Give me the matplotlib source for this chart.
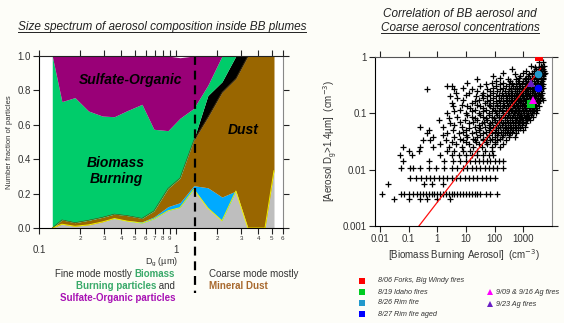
import numpy as np
import matplotlib.pyplot as plt
from matplotlib.ticker import FixedLocator, NullLocator

plt.rcParams['font.family'] = ['Liberation Sans', 'DejaVu Sans']

# ---------------- left panel: size-resolved composition ----------------
diam = [0.125, 0.147, 0.183, 0.23, 0.29, 0.355, 0.44, 0.565, 0.69, 0.875,
        1.07, 1.35, 1.71, 2.17, 2.74, 3.35, 4.47, 5.2]
# cumulative upper edge of each layer (number fraction)
top_other = [0, 0.022, 0.010, 0.018, 0.035, 0.055, 0.040, 0.028, 0.052, 0.100,
             0.118, 0.225, 0.116, 0.042, 0.215, 0, 0, 0.333]
top_salt = [0, 0.022, 0.010, 0.018, 0.035, 0.057, 0.042, 0.036, 0.064, 0.124,
            0.147, 0.246, 0.234, 0.180, 0.215, 0, 0, 0.333]
top_dust = [0, 0.047, 0.031, 0.045, 0.062, 0.081, 0.072, 0.056, 0.099, 0.230,
            0.290, 0.510, 0.645, 0.790, 0.870, 1.0, 1.0, 1.0]
top_soot = [0, 0.047, 0.031, 0.045, 0.062, 0.081, 0.072, 0.056, 0.099, 0.230,
            0.290, 0.515, 0.770, 0.850, 1.0, 1.0, 1.0, 1.0]
top_bb = [1.0, 0.735, 0.758, 0.680, 0.651, 0.647, 0.682, 0.719, 0.574, 0.566,
          0.638, 0.696, 0.830, 1.0, 1.0, 1.0, 1.0, 1.0]
top_so = [1.0, 1.0, 1.0, 1.0, 1.0, 1.0, 1.0, 1.0, 1.0, 1.0,
          0.99, 1.0, 1.0, 1.0, 1.0, 1.0, 1.0, 1.0]
cut_size = 1.38

# ---------------- right panel: scatter (log10 values, read by rows) ----------------
row_log_coarse = [-0.10, -0.16, -0.22, -0.28, -0.34, -0.40, -0.46, -0.52, -0.58,
                  -0.64, -0.70, -0.76, -0.82, -0.88, -0.94, -1.00, -1.06, -1.12,
                  -1.18, -1.24, -1.30, -1.36, -1.42, -1.48, -1.54, -1.60, -1.67,
                  -1.74, -1.84, -1.97, -2.15, -2.26, -2.44, -2.52]
row_log_bb = [
    [3.55, 3.68],
    [3.28, 3.62, 3.72],
    [2.6, 3.45, 3.58, 3.70],
    [2.3, 3.0, 3.3, 3.5, 3.65, 3.75],
    [1.95, 2.9, 3.15, 3.4, 3.55, 3.68],
    [1.4, 2.45, 2.75, 3.05, 3.25, 3.45, 3.6, 3.7],
    [1.02, 1.9, 2.3, 2.6, 2.85, 3.1, 3.3, 3.48, 3.62],
    [0.33, 0.5, 1.5, 2.05, 2.4, 2.65, 2.9, 3.05, 3.2, 3.35, 3.5, 3.65],
    [-0.37, 0.6, 1.2, 1.75, 2.2, 2.5, 2.7, 2.85, 3.0, 3.12, 3.25, 3.38, 3.5, 3.62],
    [0.67, 1.1, 1.6, 1.95, 2.25, 2.45, 2.62, 2.78, 2.92, 3.05, 3.18, 3.3, 3.42, 3.55, 3.66],
    [0.45, 1.35, 1.75, 2.05, 2.3, 2.5, 2.68, 2.82, 2.95, 3.08, 3.2, 3.32, 3.45, 3.58],
    [0.9, 1.45, 1.85, 2.15, 2.38, 2.56, 2.72, 2.86, 2.98, 3.1, 3.22, 3.34, 3.46, 3.58, 3.68],
    [0.5, 1.2, 1.65, 1.95, 2.2, 2.42, 2.6, 2.75, 2.88, 3.0, 3.12, 3.24, 3.36, 3.5],
    [0.55, 1.05, 1.5, 1.85, 2.1, 2.3, 2.48, 2.64, 2.78, 2.9, 3.02, 3.14, 3.26, 3.4, 3.55],
    [0.8, 1.3, 1.7, 2.0, 2.25, 2.45, 2.6, 2.74, 2.86, 2.98, 3.1, 3.22, 3.34, 3.46],
    [0.35, 1.0, 1.45, 1.8, 2.05, 2.3, 2.5, 2.66, 2.8, 2.92, 3.04, 3.16, 3.3, 3.45],
    [0.7, 1.2, 1.6, 1.9, 2.15, 2.36, 2.55, 2.7, 2.84, 2.96, 3.08, 3.2, 3.35],
    [0.05, 0.95, 1.4, 1.75, 2.0, 2.22, 2.42, 2.6, 2.75, 2.88, 3.0, 3.12, 3.25],
    [0.45, 1.1, 1.55, 1.85, 2.1, 2.3, 2.48, 2.65, 2.8, 2.95, 3.1],
    [-0.6, 0.2, 0.85, 1.3, 1.65, 1.95, 2.2, 2.4, 2.58, 2.75, 2.9, 3.05],
    [-0.3, 0.55, 1.0, 1.45, 1.8, 2.05, 2.28, 2.48, 2.65, 2.82, 2.98],
    [-0.37, 0.35, 0.75, 1.2, 1.6, 1.9, 2.12, 2.35, 2.55, 2.75],
    [-0.15, 0.6, 1.05, 1.4, 1.72, 2.0, 2.25, 2.5, 2.7],
    [-0.49, -0.26, 0.3, 0.9, 1.3, 1.6, 1.85, 2.1, 2.4],
    [0.1, 0.65, 1.1, 1.45, 1.75, 2.0, 2.3],
    [-1.2, -0.6, -0.14, 0.4, 0.85, 1.25, 1.55, 1.9, 2.2],
    [-1.0, -0.65, 0.33, 0.6, 0.9, 1.15, 1.4, 1.65, 1.9],
    [-1.3, -0.87, 0.1, 0.5, 0.75, 1.0, 1.2, 1.4, 1.6, 1.8, 1.95],
    [-1.2, -0.3, 0.25, 0.55, 0.8, 1.0, 1.15, 1.3, 1.45, 1.6, 1.72, 1.85, 2.0, 2.15, 2.3],
    [-1.25, -0.95, -0.85, -0.6, -0.3, -0.05, 0.25, 0.5, 0.7, 0.9, 1.05, 1.2, 1.35,
     1.5, 1.65, 1.8, 1.95, 2.1, 2.3],
    [-0.95, -0.75, -0.55, -0.4, -0.25, -0.1, 0.05, 0.2, 0.35, 0.5, 0.65, 0.8, 0.95,
     1.1, 1.25, 1.4, 1.55, 1.7, 1.85, 2.0],
    [-1.7, -0.45, -0.2, 0.2],
    [-1.94, -1.25, -1.15, -1.0, -0.85, -0.7, -0.6, -0.5, -0.4, -0.3, -0.2, -0.1, 0.0,
     0.1, 0.2, 0.3, 0.4, 0.5, 0.6, 0.7, 0.8, 0.9, 1.0, 1.1, 1.2, 1.3, 1.4, 1.5, 1.7,
     1.85, 2.07],
    [-1.5, -1.0, -0.6, -0.35, 0.0, 0.45],
]
# extra in-between rows for the dense core of the cloud
core_log_coarse = [-0.19, -0.25, -0.31, -0.37, -0.43, -0.49, -0.55, -0.61, -0.67,
                   -0.73, -0.79, -0.85, -0.91, -0.97, -1.03, -1.09, -1.15, -1.21,
                   -1.27, -1.33, -1.39, -1.45, -1.51]
core_log_bb = [
    [3.4, 3.55, 3.66],
    [3.1, 3.38, 3.52, 3.62, 3.72],
    [2.7, 3.2, 3.38, 3.52, 3.63, 3.72],
    [2.2, 2.85, 3.1, 3.3, 3.48, 3.6, 3.7],
    [2.05, 2.55, 2.8, 3.0, 3.18, 3.36, 3.52, 3.66],
    [1.7, 2.2, 2.5, 2.75, 2.96, 3.12, 3.27, 3.42, 3.57, 3.7],
    [0.9, 1.95, 2.3, 2.58, 2.78, 2.94, 3.06, 3.18, 3.3, 3.44, 3.56, 3.68],
    [1.4, 1.85, 2.1, 2.36, 2.56, 2.72, 2.86, 2.98, 3.1, 3.22, 3.34, 3.46, 3.6],
    [1.0, 1.55, 1.85, 2.15, 2.38, 2.56, 2.74, 2.88, 3.0, 3.12, 3.25, 3.38, 3.5, 3.62],
    [0.7, 1.6, 1.95, 2.22, 2.44, 2.62, 2.78, 2.9, 3.02, 3.14, 3.27, 3.4, 3.52, 3.64],
    [1.3, 1.75, 2.05, 2.3, 2.5, 2.66, 2.8, 2.92, 3.05, 3.17, 3.29, 3.41, 3.54],
    [0.85, 1.4, 1.8, 2.08, 2.32, 2.52, 2.68, 2.82, 2.94, 3.06, 3.18, 3.3, 3.44],
    [1.15, 1.6, 1.95, 2.18, 2.38, 2.55, 2.7, 2.83, 2.95, 3.07, 3.19, 3.31, 3.45],
    [0.6, 1.2, 1.6, 1.92, 2.16, 2.38, 2.56, 2.72, 2.86, 2.98, 3.1, 3.22, 3.36],
    [1.05, 1.5, 1.8, 2.1, 2.3, 2.48, 2.64, 2.78, 2.9, 3.02, 3.14, 3.28],
    [0.4, 1.3, 1.7, 1.98, 2.22, 2.44, 2.62, 2.78, 2.92, 3.05, 3.18],
    [0.8, 1.25, 1.62, 1.92, 2.16, 2.36, 2.54, 2.7, 2.85, 3.0],
    [0.6, 1.45, 1.8, 2.04, 2.26, 2.46, 2.64, 2.8, 2.95],
    [1.1, 1.5, 1.85, 2.12, 2.35, 2.55, 2.72, 2.88],
    [0.9, 1.35, 1.7, 2.0, 2.22, 2.44, 2.62],
    [0.2, 1.0, 1.5, 1.82, 2.08, 2.3, 2.5],
    [0.8, 1.25, 1.6, 1.9, 2.18],
    [0.5, 1.0, 1.35, 1.7, 2.0],
]
fit_bb = [0.23, 4000]
fit_coarse = [0.001, 0.62]

fire_names = ['8/06 Forks, Big Windy fires', '8/19 Idaho fires', '8/26 Rim fire',
              '8/27 Rim fire aged', '9/09 & 9/16 Ag fires', '9/23 Ag fires']
fire_bb = [3500, 1800, 3300, 3350, 2100, 1850]
fire_coarse = [0.98, 0.145, 0.50, 0.28, 0.17, 0.34]
fire_err = [700, 400, 600, 600, 400, 350]
fire_colors = ['#ff0000', '#00cc22', '#2299cc', '#0000ff', '#ff00ff', '#6a1fc4']
fire_markers = ['s', 's', 'o', 'o', '^', '^']
legend_markers = ['s', 's', 's', 's', '^', '^']

# ---------------------------------------------------------------------
W, H = 564, 323
fig = plt.figure(figsize=(W / 100, H / 100), dpi=100, facecolor='#fdfdf8')


def fx(px):
    return px / W


def fy(py):
    return 1 - py / H


# ----- left axes
ax = fig.add_axes([fx(39), fy(228), fx(283) - fx(39), fy(56) - fy(228)])
ax.set_facecolor('white')
ax.fill_between(diam, 0, top_other, color='#bebebe', lw=0)
ax.fill_between(diam, top_other, top_salt, color='#00aaff', lw=0)
ax.fill_between(diam, top_salt, top_dust, color='#996600', lw=0)
ax.fill_between(diam, top_dust, top_soot, color='black', lw=0)
ax.fill_between(diam, top_soot, top_bb, color='#00cc6a', lw=0)
ax.fill_between(diam, top_bb, top_so, color='#990077', lw=0)
ax.plot(diam, top_other, color='#f2f200', lw=0.7)
ax.plot(diam, top_dust, color='#5a3a00', lw=0.4)
ax.plot([cut_size, cut_size], [1.0, -0.38], color='black', lw=1.6,
        dashes=(4, 2.6), clip_on=False)

ax.set_xscale('log')
ax.set_xlim(0.1, 6.05)
ax.set_ylim(0, 1.0)
ax.set_yticks([0, 0.2, 0.4, 0.6, 0.8, 1.0])
ax.set_yticklabels(['0.0', '0.2', '0.4', '0.6', '0.8', '1.0'])
ax.xaxis.set_major_locator(FixedLocator([0.1, 1]))
ax.set_xticklabels(['0.1', '1'])
minor = [0.2, 0.3, 0.4, 0.5, 0.6, 0.7, 0.8, 0.9, 2, 3, 4, 5, 6]
ax.set_xticks(minor, ['2', '3', '4', '5', '6', '7', '8', '9', '2', '3', '4', '5', '6'],
              minor=True)
ax.tick_params(which='both', direction='out', length=4, width=0.8,
               top=True, right=True, colors='#222222', labelcolor='#333333')
ax.tick_params(axis='x', which='major', labelsize=7, pad=8)
ax.tick_params(axis='x', which='minor', labelsize=4.5, pad=1.5)
ax.tick_params(axis='y', labelsize=7, pad=2)
ax.spines['right'].set_color('#888888')
ax.spines['top'].set_color('#222222')
ax.set_ylabel('Number fraction of particles', fontsize=5.5, color='#333333', labelpad=3)
ax.set_xlabel('D$_\\mathregular{g}$ (µm)', fontsize=6.5, color='#333333', labelpad=1)

lab = dict(fontweight='bold', fontstyle='italic', color='black', ha='center', va='center')
fig.text(fx(131), fy(80), 'Sulfate-Organic', fontsize=10, **lab)
fig.text(fx(116), fy(171), 'Biomass\nBurning', fontsize=10, linespacing=1.25, **lab)
fig.text(fx(243), fy(130), 'Dust', fontsize=10, **lab)

# ----- right axes
bx = fig.add_axes([fx(375), fy(226), fx(552) - fx(375), fy(56.7) - fy(226)])
bx.set_facecolor('white')
for ly, row in list(zip(row_log_coarse, row_log_bb)) + list(zip(core_log_coarse, core_log_bb)):
    bx.plot(10 ** np.array(row), np.full(len(row), 10 ** ly), '+', color='black',
            ms=4, mew=0.9)
bx.plot(fit_bb, fit_coarse, color='#ff1010', lw=0.9)
for b, c, e, col, m in zip(fire_bb, fire_coarse, fire_err, fire_colors, fire_markers):
    bx.errorbar(b, c, xerr=e, fmt=m, color=col, ms=5.5, mew=0, elinewidth=0.8,
                capsize=1.5, zorder=6)
bx.set_xscale('log')
bx.set_yscale('log')
bx.set_xlim(10 ** -2.17, 10 ** 4.0)
bx.set_ylim(0.001, 1)
bx.set_xticks([0.01, 0.1, 1, 10, 100, 1000], ['0.01', '0.1', '1', '10', '100', '1000'])
bx.set_yticks([0.001, 0.01, 0.1, 1], ['0.001', '0.01', '0.1', '1'])
bx.xaxis.set_minor_locator(NullLocator())
bx.yaxis.set_minor_locator(NullLocator())
bx.tick_params(which='both', direction='out', length=4, width=0.8, top=True, right=True,
               labelsize=7, colors='#222222', labelcolor='#333333', pad=2)
bx.spines['right'].set_color('#888888')
bx.spines['top'].set_color('#555555')
bx.set_xlabel('[Biomass Burning Aerosol]  (cm$^{-3}$)', fontsize=7, color='#333333',
              labelpad=2)
bx.set_ylabel('[Aerosol D$_\\mathregular{g}$>1.4µm]  (cm$^{-3}$)', fontsize=7,
              color='#333333', labelpad=2)

# ----- titles (underlined)
fig.canvas.draw()
renderer = fig.canvas.get_renderer()


def underline(t, pad=1.5):
    bb = t.get_window_extent(renderer)
    fig.add_artist(plt.Line2D([bb.x0 / W, bb.x1 / W],
                              [(bb.y0 + pad) / H, (bb.y0 + pad) / H],
                              transform=fig.transFigure, color='#222222', lw=0.7))


tt = fig.text(fx(162), fy(27), 'Size spectrum of aerosol composition inside BB plumes',
              fontsize=8.5, fontstyle='italic', ha='center', va='center', color='#222222')
underline(tt)
fig.text(fx(460), fy(14), 'Correlation of BB aerosol and', fontsize=8.5,
         fontstyle='italic', ha='center', va='center', color='#222222')
tt2 = fig.text(fx(460), fy(28), 'Coarse aerosol concentrations', fontsize=8.5,
               fontstyle='italic', ha='center', va='center', color='#222222')
underline(tt2)


# ----- multi-coloured notes under left panel
def rich_line(x_px, y_px, parts, align='left', size=7):
    objs = []
    for s, col, wt in parts:
        objs.append(fig.text(0, fy(y_px), s, fontsize=size, color=col, fontweight=wt,
                             va='center', ha='left'))
    widths = [o.get_window_extent(renderer).width for o in objs]
    x = x_px - sum(widths) if align == 'right' else x_px
    for o, w in zip(objs, widths):
        o.set_x(x / W)
        x += w


grey_t = '#333333'
green_t = '#3aaa6a'
purple_t = '#a812b4'
brown_t = '#a8692e'
rich_line(175, 274, [('Fine mode mostly ', grey_t, 'normal'), ('Biomass', green_t, 'bold')],
          'right')
rich_line(175, 286, [('Burning particles', green_t, 'bold'), (' and', grey_t, 'normal')],
          'right')
rich_line(175, 298, [('Sulfate-Organic particles', purple_t, 'bold')], 'right')
rich_line(209, 274, [('Coarse mode mostly', grey_t, 'normal')])
rich_line(209, 286, [('Mineral Dust', brown_t, 'bold')])

# ----- legend for fire markers
leg_pos = [(362, 281), (362, 292), (362, 303), (362, 314), (490, 292), (490, 304)]
for (lx, ly), name, col, m in zip(leg_pos, fire_names, fire_colors, legend_markers):
    fig.add_artist(plt.Line2D([fx(lx)], [fy(ly)], marker=m, color=col, ms=5, mew=0,
                              transform=fig.transFigure))
    fig.text(fx(lx + (16 if m == 's' else 6)), fy(ly), name, fontsize=5.2,
             fontstyle='italic', color='#333333', va='center', ha='left')

fig.savefig('out.png', dpi=100, facecolor=fig.get_facecolor())
